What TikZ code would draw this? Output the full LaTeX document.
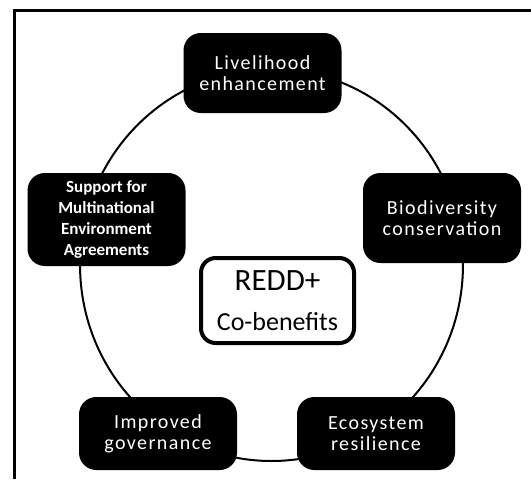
\documentclass[tikz,border=0pt]{standalone}
\usepackage{fontspec}
\setmainfont{Carlito}
\newfontfamily\spacedfont[LetterSpace=7]{Carlito}
\begin{document}
\begin{tikzpicture}[x=0.75pt,y=-0.75pt,
  blackbox/.style={fill=black, text=white, rounded corners=13pt,
    minimum width=118.5pt, align=center, inner sep=0pt,
    font=\spacedfont\fontsize{15}{15.75}\selectfont},
  boldbox/.style={blackbox, font=\fontsize{12.75}{15.75}\selectfont\bfseries},
  ring/.style={line width=1.5pt},
  frameline/.style={line width=2pt},
  centerbox/.style={draw=black, fill=white, line width=3pt, rounded corners=11pt,
    minimum width=114.75pt, minimum height=63.75pt, align=center, inner sep=0pt,
    font=\fontsize{19.5}{30}\selectfont}]
\useasboundingbox (0,0) rectangle (531,479);
\draw[frameline] (14.5,479) -- (14.5,10.5) -- (531,10.5);
\draw[ring] (271.5,265) ellipse [x radius=143.6pt, y radius=147pt];
\node[blackbox, minimum height=60pt] (live) at (262.5,73) {Livelihood\\enhancement};
\node[blackbox, minimum height=67.5pt] (bio) at (442,218) {Biodiversity\\conservation};
\node[boldbox, minimum height=69.75pt] (mea) at (106.5,219.5) {Support for\\Multinational\\Environment\\Agreements};
\node[blackbox, minimum height=54.75pt] (gov) at (158,433.5) {Improved\\governance};
\node[blackbox, minimum height=54.75pt] (eco) at (376,433.5) {Ecosystem\\resilience};
\node[centerbox] (redd) at (277.5,300.5) {\fontsize{23.25}{30}\selectfont REDD+\\\fontsize{19.5}{30}\selectfont Co-benefits};
\end{tikzpicture}
\end{document}
